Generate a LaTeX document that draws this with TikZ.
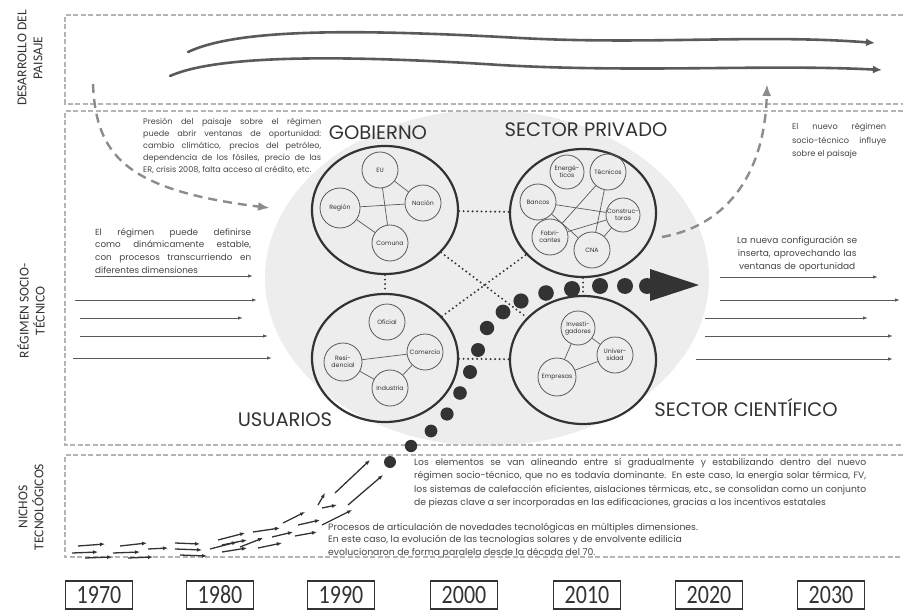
\documentclass[tikz,border=0pt]{standalone}
\usepackage{fontspec}
\setmainfont{Poppins}
\newfontfamily\calibri{Carlito}
\usetikzlibrary{shapes.geometric,arrows.meta}

\definecolor{ink}{HTML}{333333}
\definecolor{textgray}{HTML}{454545}
\definecolor{linegray}{HTML}{5A5A5A}
\definecolor{framegray}{HTML}{B4B4B4}
\definecolor{dashgray}{HTML}{8C8C8C}
\definecolor{bubble}{HTML}{EDEDED}

\tikzset{
    frame/.style={draw=framegray, line width=1.3pt, dash pattern=on 5pt off 2.5pt},
    sidelabel/.style={rotate=90, align=center, text=ink, inner sep=0pt, font=\calibri\fontsize{13.5}{16}\selectfont},
    heading/.style={text=ink, inner sep=0pt, font=\fontsize{19.5}{22}\selectfont},
    ring/.style={ellipse, draw=ink, line width=2.2pt, minimum width=146pt, minimum height=128pt, inner sep=0pt},
    actor/.style={circle, draw=linegray, line width=0.8pt, minimum size=36pt, inner sep=0pt, align=center, text=ink, font=\fontsize{6.2}{7}\selectfont},
    tie/.style={draw=linegray, line width=0.7pt},
    dotlink/.style={draw=ink, line width=2.2pt, line cap=round, dash pattern=on 0pt off 4.5pt},
    note/.style={text=textgray, inner sep=0pt, anchor=north west},
    pressure/.style={draw=dashgray, line width=2.4pt, dash pattern=on 9pt off 6pt, -{Latex[length=12pt,width=9pt]}},
    trend/.style={draw=linegray, line width=2.6pt, line cap=round, -{Latex[length=9pt,width=8pt]}},
    flow/.style={draw=linegray, line width=0.9pt, -{Latex[length=5pt,width=3.5pt]}},
    niche/.style={draw=ink, line width=1.3pt, -{Latex[length=5pt,width=4pt]}},
    yearbox/.style={draw=ink, line width=1.1pt, minimum width=67pt, minimum height=28pt, inner sep=0pt, font=\calibri\fontsize{22}{24}\selectfont, text=ink}
}

\begin{document}
\begin{tikzpicture}[x=1pt, y=-1pt]
    \useasboundingbox (0,0) rectangle (903,610);

    \fill[bubble] (487,278) ellipse [x radius=222pt, y radius=168pt];

    \draw[frame] (903,15) -- (65,15) -- (65,104) -- (903,104);
    \draw[frame] (903,111) -- (65,111) -- (65,445) -- (903,445);
    \draw[frame] (903,455) -- (65,455) -- (65,557) -- (903,557);

    \node[sidelabel] (lpaisaje) at (30,58) {DESARROLLO DEL\\PAISAJE};
    \node[sidelabel] (lregimen) at (31,311) {RÉGIMEN SOCIO-\\TÉCNICO};
    \node[sidelabel] (lnichos) at (31,507) {NICHOS\\TECNOLÓGICOS};

    \coordinate (wa1) at (188,52);
    \coordinate (wa2) at (875,43);
    \coordinate (wb1) at (170,76);
    \coordinate (wb2) at (882,70);
    \draw[trend] (wa1) .. controls (235,30) and (340,28) .. (520,38) .. controls (650,45) and (760,34) .. (wa2);
    \draw[trend] (wb1) .. controls (215,56) and (330,54) .. (500,65) .. controls (640,73) and (770,64) .. (wb2);

    \node[ring] (gob) at (385,210) {};
    \node[ring] (priv) at (583,213) {};
    \node[ring] (usu) at (385,358) {};
    \node[ring] (cien) at (583,360) {};

    \node[heading] (tgob) at (378,133) {GOBIERNO};
    \node[heading] (tpriv) at (586,130) {SECTOR PRIVADO};
    \node[heading] (tusu) at (285,420) {USUARIOS};
    \node[heading] (tcien) at (746,408) {SECTOR CIENTÍFICO};

    \node[actor] (eu) at (380,170) {EU};
    \node[actor] (nacion) at (423,203) {Nación};
    \node[actor, minimum size=40pt] (region) at (340,208) {Región};
    \node[actor] (comuna) at (390,243) {Comuna};
    \draw[tie] (eu) -- (nacion);
    \draw[tie] (eu) -- (comuna);
    \draw[tie] (region) -- (nacion);
    \draw[tie] (region) -- (comuna);

    \node[actor, minimum size=34pt] (energ) at (567,172) {Energé-\\ticos};
    \node[actor] (tecn) at (608,172) {Técnicos};
    \node[actor] (bancos) at (538,202) {Bancos};
    \node[actor, minimum size=34pt] (constr) at (623,215) {Construc-\\toras};
    \node[actor] (fabr) at (550,237) {Fabri-\\cantes};
    \node[actor] (cna) at (592,250) {CNA};
    \draw[tie] (bancos) -- (constr);
    \draw[tie] (bancos) -- (cna);
    \draw[tie] (fabr) -- (tecn);
    \draw[tie] (fabr) -- (constr);
    \draw[tie] (tecn) -- (cna);
    \draw[tie] (cna) -- (constr);

    \node[actor] (oficial) at (387,322) {Oficial};
    \node[actor] (comercio) at (425,352) {Comercio};
    \node[actor, minimum size=38pt] (resid) at (343,362) {Resi-\\dencial};
    \node[actor] (industria) at (390,388) {Industria};
    \draw[tie] (resid) -- (comercio);
    \draw[tie] (resid) -- (industria);
    \draw[tie] (industria) -- (comercio);

    \node[actor, minimum size=34pt] (invest) at (578,328) {Investi-\\gadores};
    \node[actor] (univ) at (615,355) {Univer-\\sidad};
    \node[actor, minimum size=38pt] (empresas) at (557,377) {Empresas};
    \draw[tie] (invest) -- (empresas);
    \draw[tie] (empresas) -- (univ);
    \draw[tie] (invest) -- (univ);

    \draw[dotlink] (gob) -- (priv);
    \draw[dotlink] (usu) -- (cien);
    \draw[dotlink] (gob) -- (cien);
    \draw[dotlink] (usu) -- (priv);
    \draw[dotlink] (gob) -- (usu);
    \draw[dotlink] (priv) -- (cien);

    \foreach \px/\py/\r in {390/462/6, 411/446/6.2, 431/431/6.4, 447/414/6.6, 460/393/6.8, 470/372/7,
        478/350/7, 487/328/7.2, 503/312/7.4, 521/301/7.6, 546/293/7.8, 572/289/8, 600/286/8, 625/286/8, 647/286/8}
        \fill[ink] (\px,\py) circle [radius=\r pt];
    \fill[ink] (650,269) -- (699,285) -- (650,301) -- cycle;

    \coordinate (pfrom) at (93,84);
    \coordinate (pto) at (270,208);
    \draw[pressure] (pfrom) .. controls (96,155) and (125,190) .. (pto);
    \coordinate (ifrom) at (662,237);
    \coordinate (ito) at (767,84);
    \draw[pressure] (ifrom) .. controls (730,225) and (765,170) .. (ito);

    \foreach \xa/\xb/\yy in {95/253/276, 75/257/300, 80/243/318, 80/268/336, 73/272/358,
        720/878/277, 720/900/300, 705/868/318, 705/893/336, 696/893/359}
        \draw[flow] (\xa,\yy) -- (\xb,\yy);

    \foreach \xa/\ya/\xb/\yb in {78/546/105/544, 72/553/98/552, 85/558/112/557,
        120/546/147/543, 113/553/140/552, 128/558/153/557, 148/549/168/548,
        175/543/200/544, 175/549/202/550, 180/555/207/556,
        210/549/237/542, 218/540/245/533, 222/545/247/540, 222/552/247/548,
        240/547/263/538, 253/532/280/528, 258/548/282/543, 272/537/293/532,
        283/523/305/512, 295/536/317/532, 298/525/320/520, 318/505/325/493,
        322/508/337/505, 322/525/352/510, 335/493/370/460, 348/505/383/475}
        \draw[niche] (\xa,\ya) -- (\xb,\yb);

    \node[note, text width=178pt, align=justify, font=\fontsize{8.1}{12}\selectfont] (tpresion) at (143,118)
        {Presión del paisaje sobre el régimen\linebreak puede abrir ventanas de oportunidad:\linebreak cambio climático, precios del petróleo,\linebreak dependencia de los fósiles, precio de las\linebreak ER, crisis 2008, falta acceso al crédito, etc.};
    \node[note, text width=156pt, align=justify, font=\fontsize{8.8}{12.8}\selectfont] (testable) at (95,228)
        {El régimen puede definirse\linebreak como dinámicamente estable,\linebreak con procesos transcurriendo en\linebreak diferentes dimensiones};
    \node[note, text width=94pt, align=justify, font=\fontsize{8.2}{13.5}\selectfont] (tinfluye) at (792,123)
        {El nuevo régimen\linebreak socio-técnico influye\linebreak sobre el paisaje};
    \node[note, text width=126pt, align=center, font=\fontsize{9}{13}\selectfont] (tinserta) at (734,236)
        {La nueva configuración se\\ inserta, aprovechando las\\ ventanas de oportunidad};
    \node[note, text width=452pt, align=justify, font=\fontsize{9.2}{13.5}\selectfont] (talinea) at (414,458)
        {Los elementos se van alineando entre sí gradualmente y estabilizando dentro del nuevo\linebreak régimen socio-técnico, que no es todavía dominante. En este caso, la energía solar térmica, FV,\linebreak los sistemas de calefacción eficientes, aislaciones térmicas, etc., se consolidan como un conjunto\linebreak de piezas clave a ser incorporadas en las edificaciones, gracias a los incentivos estatales};
    \node[note, align=left, font=\fontsize{9.3}{12.3}\selectfont] (tprocesos) at (328,523)
        {Procesos de articulación de novedades tecnológicas en múltiples dimensiones.\\
         En este caso, la evolución de las tecnologías solares y de envolvente edilicia\\
         evolucionaron de forma paralela desde la década del 70.};

    \foreach \xx/\yr in {99/1970, 220/1980, 341/1990, 464/2000, 587/2010, 709/2020, 831/2030}
        \node[yearbox] (y\yr) at (\xx,595) {\scalebox{1}[1.2]{\yr}};
\end{tikzpicture}
\end{document}
